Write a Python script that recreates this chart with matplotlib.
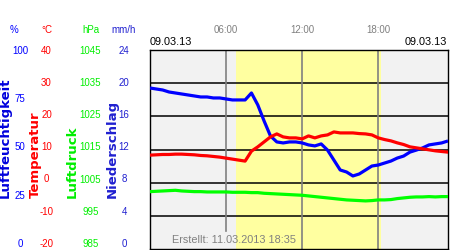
import matplotlib
matplotlib.use("Agg")
import matplotlib.pyplot as plt
from matplotlib.transforms import blended_transform_factory

# time of day in hours
hours = [0, 0.5, 1, 1.5, 2, 2.5, 3, 3.5, 4, 4.5, 5, 5.5, 6, 6.5, 7, 7.5,
         8, 8.5, 9, 9.5, 10, 10.5, 11, 11.5, 12, 12.5, 13, 13.5, 14, 14.5, 15, 15.5,
         16, 16.5, 17, 17.5, 18, 18.5, 19, 19.5, 20, 20.5, 21, 21.5, 22, 22.5, 23, 23.5]

humidity = [80.9, 80.4, 79.9, 78.9, 78.4, 77.9, 77.4, 76.9, 76.4, 76.4, 75.9, 75.9, 75.4, 74.9, 74.9, 74.9,
            78.4, 72.4, 64.3, 56.8, 53.8, 53.3, 53.8, 53.8, 53.3, 52.3, 51.8, 52.8, 49.7, 44.7, 39.7, 38.7,
            36.7, 37.7, 39.7, 41.7, 42.2, 43.2, 44.2, 45.7, 46.7, 48.7, 49.7, 50.8, 52.3, 52.8, 53.3, 54.3]

temperature = [8.3, 8.4, 8.5, 8.5, 8.6, 8.6, 8.5, 8.4, 8.2, 8.1, 7.9, 7.7, 7.4, 7.1, 6.8, 6.5,
               9.5, 10.8, 12.3, 13.8, 14.7, 13.8, 13.5, 13.5, 13.2, 14.1, 13.5, 14.1, 14.4, 15.3, 15.0, 15.0,
               15.0, 14.8, 14.7, 14.4, 13.5, 13.0, 12.6, 12.0, 11.5, 10.8, 10.5, 10.2, 9.9, 9.6, 9.4, 9.2]

pressure = [1002.3, 1002.4, 1002.5, 1002.6, 1002.7, 1002.5, 1002.4, 1002.3, 1002.3, 1002.2, 1002.2, 1002.2,
            1002.2, 1002.1, 1002.1, 1002.1, 1002.0, 1002.0, 1001.8, 1001.7, 1001.6, 1001.5, 1001.4, 1001.3,
            1001.2, 1001.0, 1000.8, 1000.6, 1000.4, 1000.2, 1000.0, 999.8, 999.7, 999.6, 999.5, 999.6,
            999.8, 999.8, 999.9, 1000.2, 1000.4, 1000.6, 1000.7, 1000.7, 1000.8, 1000.7, 1000.8, 1000.8]

sunrise, sunset = 6.8, 18.2
time_ticks = [6, 12, 18]
time_labels = ["06:00", "12:00", "18:00"]

hum_ticks = [0, 25, 50, 75, 100]
temp_ticks = [-20, -10, 0, 10, 20, 30, 40]
pres_ticks = [985, 995, 1005, 1015, 1025, 1035, 1045]
rain_ticks = [0, 4, 8, 12, 16, 20, 24]

W, H = 450, 250
fig = plt.figure(figsize=(4.5, 2.5), dpi=100)
sans = "Liberation Sans"

ax = fig.add_axes([150 / W, 1 / H, 298 / W, 199 / H])
ax.set_facecolor("#f2f2f2")
ax.set_xlim(0, 23.5)
ax.set_ylim(0, 24)
ax.axvspan(sunrise, sunset, color="#ffffa0", zorder=0, lw=0)
for t in rain_ticks[1:-1]:
    ax.axhline(t, color="black", lw=1.1, zorder=1)
for t in time_ticks:
    ymin = 0.09 if t == 6 else 0
    ax.axvline(t, ymin=ymin, color="#808080", lw=1.2, zorder=1)
ax.set_yticks([])
ax.set_xticks(time_ticks, time_labels)
ax.xaxis.tick_top()
ax.tick_params(axis="x", length=0, pad=11, labelsize=7, labelcolor="#808080")
for lab in ax.get_xticklabels():
    lab.set_family(sans)
for s in ax.spines.values():
    s.set_linewidth(1)

ax_h = ax.twinx()
ax_h.set_ylim(0, 100)
ax_h.axis("off")
ax_h.plot(hours, humidity, color="#0000ff", lw=2.3, solid_capstyle="butt")

ax_t = ax.twinx()
ax_t.set_ylim(-20, 40)
ax_t.axis("off")
ax_t.plot(hours, temperature, color="#ff0000", lw=2.3)

ax_p = ax.twinx()
ax_p.set_ylim(985, 1045)
ax_p.axis("off")
ax_p.plot(hours, pressure, color="#00ff00", lw=2.3)

# left scales
scales = [
    (hum_ticks, (0, 100), 20, "#0000ff", "%", "Luftfeuchtigkeit", 5),
    (temp_ticks, (-20, 40), 46.5, "#ff0000", "°C", "Temperatur", 35),
    (pres_ticks, (985, 1045), 90.5, "#00ee00", "hPa", "Luftdruck", 72),
    (rain_ticks, (0, 24), 124, "#2020d0", "mm/h", "Niederschlag", 112),
]
for ticks, lim, xc, col, unit, name, xn in scales:
    la = fig.add_axes([0, 6 / H, 1, 193.5 / H])
    la.set_ylim(*lim)
    la.axis("off")
    tr = blended_transform_factory(la.transAxes, la.transData)
    for v in ticks:
        la.text(xc / W, v, str(v), transform=tr, ha="center", va="center",
                color=col, fontsize=7, family=sans)
    fig.text(xc / W if unit != "%" else 14 / W, (H - 30) / H, unit, ha="center", va="center",
             color=col, fontsize=7, family=sans)
    fig.text(xn / W, (H - 198) / H, name, rotation=90, ha="center", va="bottom",
             color=col if unit != "%" else "#0000dd", fontsize=9.5, fontweight="bold")

fig.text(150 / W, (H - 42) / H, "09.03.13", ha="left", va="center", fontsize=7.8, family=sans)
fig.text(447 / W, (H - 42) / H, "09.03.13", ha="right", va="center", fontsize=7.8, family=sans)
fig.text(172 / W, (H - 240) / H, "Erstellt: 11.03.2013 18:35", ha="left", va="center",
         fontsize=7.8, color="#808080", family=sans)

fig.savefig("out.png", dpi=100)
